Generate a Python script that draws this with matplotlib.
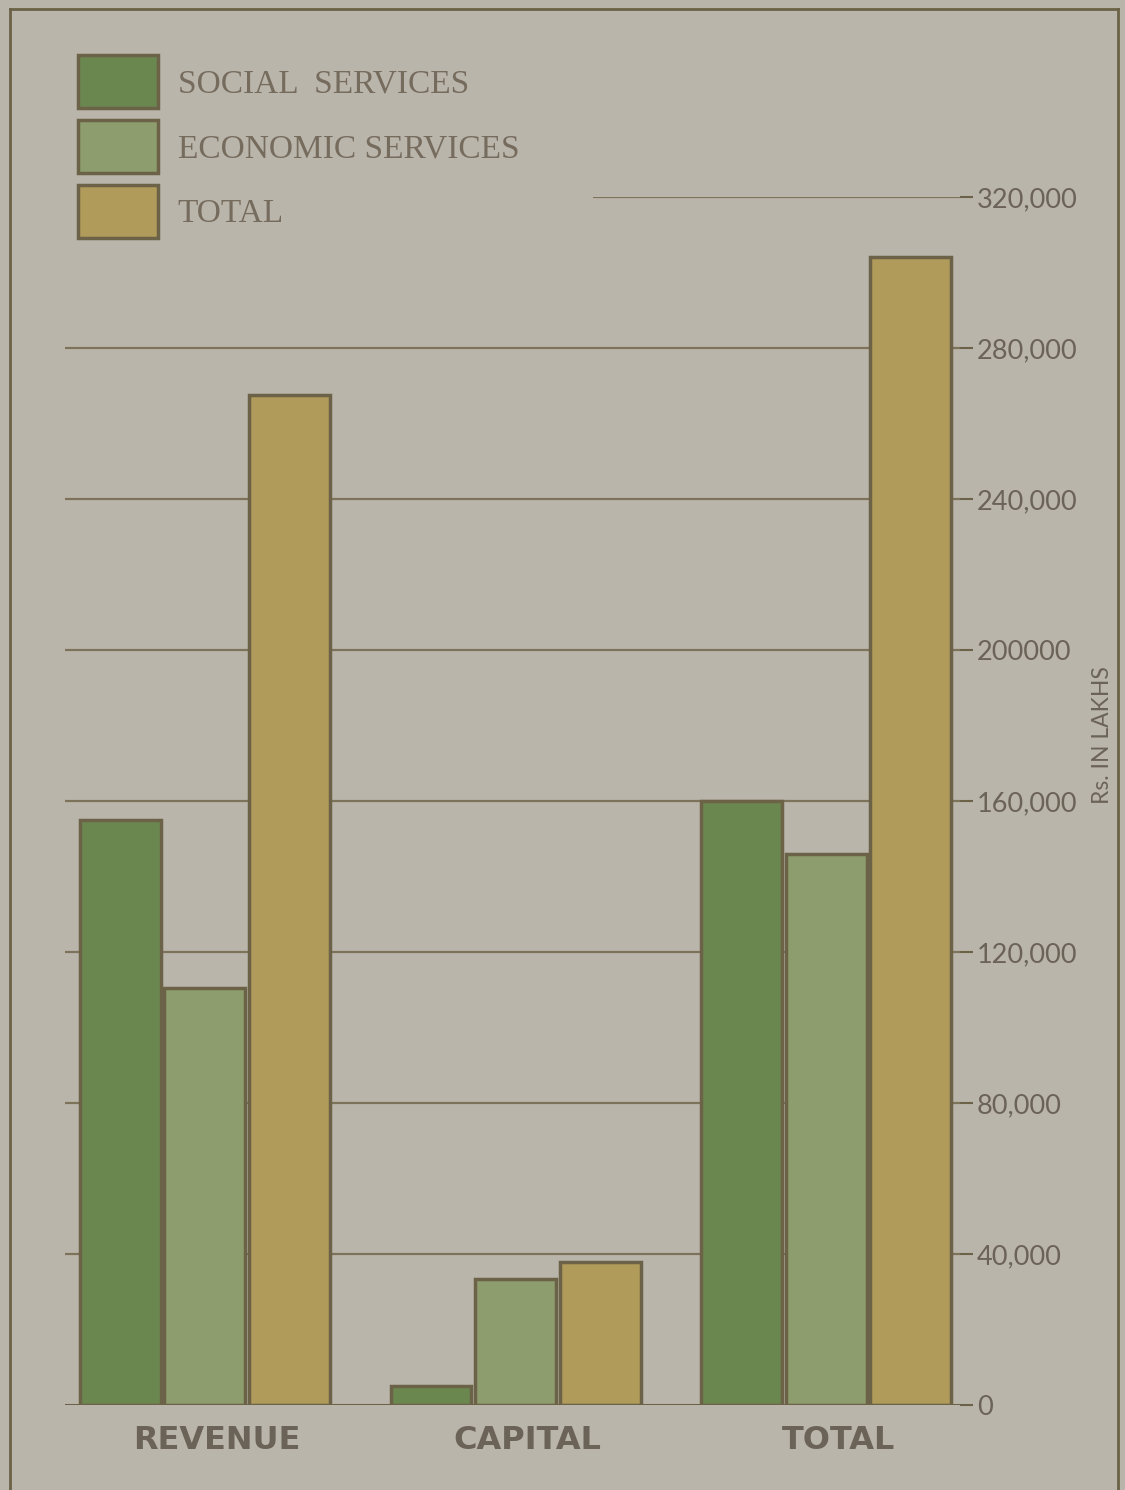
import matplotlib.pyplot as plt
from matplotlib.lines import Line2D
from matplotlib.transforms import ScaledTranslation
import numpy as np

# data (Rs. in lakhs)
groups = ['REVENUE', 'CAPITAL', 'TOTAL']
social = [155000, 5000, 160000]
economic = [110500, 33500, 146000]
total = [267500, 38000, 304000]
series_names = ['SOCIAL  SERVICES', 'ECONOMIC SERVICES', 'TOTAL']
yticks = [0, 40000, 80000, 120000, 160000, 200000, 240000, 280000, 320000]
ytick_labels = ['0', '40,000', '80,000', '120,000', '160,000', '200000',
                '240,000', '280,000', '320,000']

bg = '#bab5ab'
edge = '#6b6247'
text_col = '#6b6358'
colors = ['#6b8750', '#8d9d6d', '#b09b5a']

fig = plt.figure(figsize=(11.25, 14.9), dpi=100, facecolor=bg)
ax = fig.add_axes([0.0578, 0.057, 0.7955, 0.8108])
ax.set_facecolor(bg)

pos = np.arange(len(groups))
width = 0.26
off = 0.272

# grid lines behind the bars (top one only starts past the legend)
starts = [-0.45] * (len(yticks) - 1) + [1.25]
ax.hlines(yticks[1:], starts[1:], 2.43, color='#7d725a', lw=1.6, zorder=1)

handles = []
for i, vals in enumerate([social, economic, total]):
    b = ax.bar(pos + (i - 1) * off, vals, width, color=colors[i],
               edgecolor=edge, linewidth=2.5, zorder=3)
    handles.append(b)

ax.axhline(0, color=edge, lw=2.2, zorder=4)

ax.set_xlim(-0.45, 2.43)
ax.set_ylim(0, 320000)
for s in ax.spines.values():
    s.set_visible(False)

ax.set_xticks(pos)
ax.set_xticklabels(groups, fontfamily='DejaVu Sans', fontweight='bold',
                   fontsize=23, color=text_col)
ax.tick_params(axis='x', length=0, pad=14)
shift = ScaledTranslation(0.12, 0, fig.dpi_scale_trans)
for lab in ax.get_xticklabels():
    lab.set_transform(lab.get_transform() + shift)

ax.yaxis.tick_right()
ax.set_yticks(yticks)
ax.set_yticklabels(ytick_labels, fontfamily='Lato', fontsize=19.5, color=text_col)
ax.tick_params(axis='y', direction='out', length=9, width=1.5, color=edge, pad=3)
ax.yaxis.set_label_position('right')
ax.set_ylabel('Rs. IN LAKHS', fontfamily='Lato', fontsize=16.5, color=text_col)
ax.yaxis.set_label_coords(1.147, 0.555)

leg = fig.legend(handles, series_names, loc='upper left',
                 bbox_to_anchor=(0.069, 0.963), frameon=False,
                 prop={'family': 'Liberation Serif', 'size': 24},
                 handlelength=2.4, handleheight=2.07, labelspacing=0.36,
                 handletextpad=0.6, borderpad=0, borderaxespad=0)
for t in leg.get_texts():
    t.set_color('#766c5e')

# open frame round the plate
frame_kw = dict(color=edge, lw=2, transform=fig.transFigure)
fig.add_artist(Line2D([0.009, 0.009], [0.994, -0.01], **frame_kw))
fig.add_artist(Line2D([0.009, 0.9935], [0.994, 0.994], **frame_kw))
fig.add_artist(Line2D([0.9935, 0.9935], [0.994, -0.01], **frame_kw))

fig.savefig('out.png', dpi=100, facecolor=bg)
